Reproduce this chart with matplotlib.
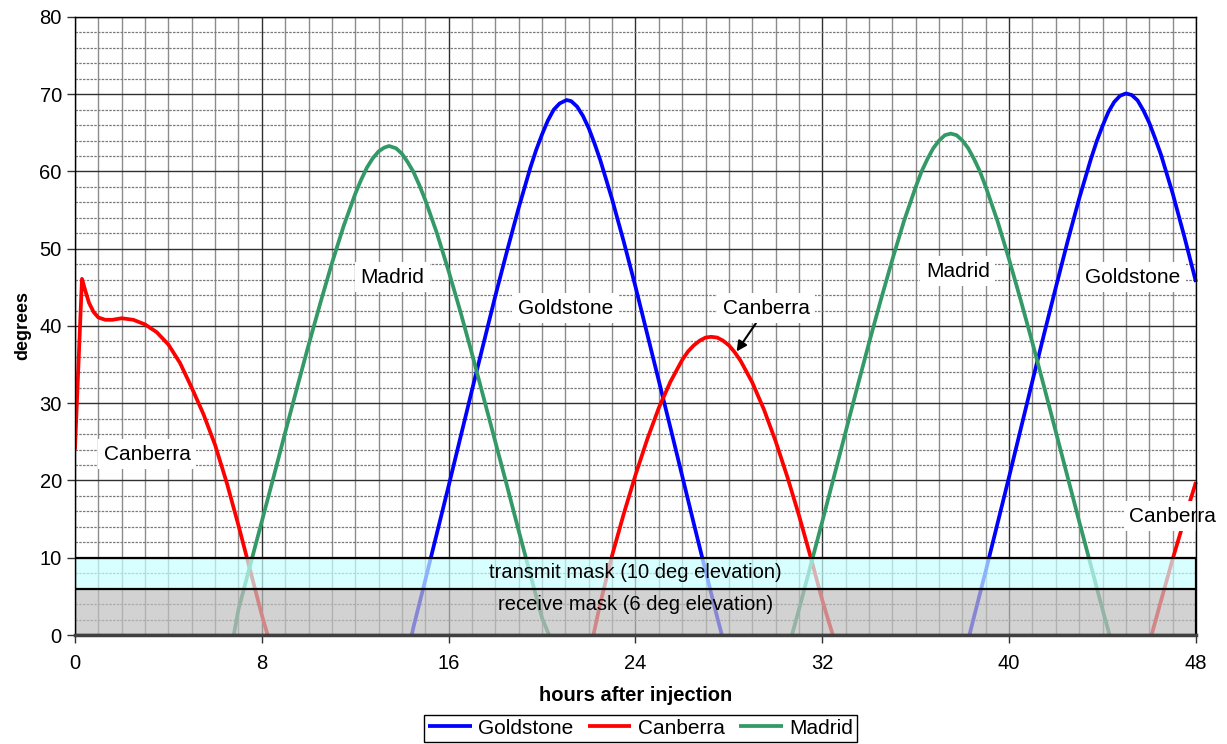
import numpy as np
import matplotlib
matplotlib.use('Agg')
import matplotlib.pyplot as plt
from matplotlib.patches import Rectangle

plt.rcParams['font.family'] = ['Liberation Sans', 'DejaVu Sans']

# elevation passes (hours after injection, degrees)
canberra1_t = [0, 0.3, 0.45, 0.6, 0.8, 1.0, 1.3, 1.6, 2.0, 2.5, 3.0, 3.5, 4.0, 4.5, 5.0, 5.5, 6.0, 6.5, 7.0, 7.5, 8.0, 8.25]
canberra1_el = [24, 46.1, 44.5, 43.0, 41.8, 41.1, 40.8, 40.8, 41.0, 40.8, 40.2, 39.2, 37.6, 35.2, 32.0, 28.6, 24.6, 19.7, 14.2, 8.4, 2.6, 0]

madrid1_t = [6.8, 7.0, 7.5, 8.0, 8.5, 9.0, 9.5, 10.0, 10.5, 11.0, 11.5, 12.0, 12.25, 12.5, 12.75, 13.0, 13.25, 13.45,
             13.75, 14.0, 14.25, 14.5, 14.75, 15.0, 15.5, 16.0, 16.5, 17.0, 17.5, 18.0, 18.5, 19.0, 19.5, 20.0, 20.3]
madrid1_el = [0, 3.3, 9.0, 14.7, 20.4, 26.2, 31.9, 37.5, 42.9, 48.1, 52.9, 57.1, 58.9, 60.5, 61.7, 62.6, 63.1, 63.3,
              63.0, 62.3, 61.2, 59.9, 58.2, 56.3, 52.0, 47.1, 41.9, 36.4, 30.7, 25.0, 19.3, 13.5, 7.8, 2.2, 0]

goldstone1_t = [14.42, 14.5, 15.0, 15.5, 16.0, 16.5, 17.0, 17.5, 18.0, 18.5, 19.0, 19.5, 19.75, 20.0, 20.25, 20.5,
                20.75, 21.05, 21.25, 21.5, 21.75, 22.0, 22.25, 22.5, 23.0, 23.5, 24.0, 24.5, 25.0, 25.5, 26.0,
                26.5, 27.0, 27.5, 27.7]
goldstone1_el = [0, 1.1, 7.1, 13.2, 19.3, 25.5, 31.7, 37.8, 43.9, 49.7, 55.3, 60.5, 62.8, 64.8, 66.6, 68.0,
                 68.8, 69.25, 69.1, 68.4, 67.2, 65.6, 63.6, 61.4, 56.4, 50.9, 45.1, 39.0, 32.9, 26.8, 20.6,
                 14.4, 8.3, 2.3, 0]

canberra2_t = [22.2, 22.5, 23.0, 23.5, 24.0, 24.5, 25.0, 25.5, 26.0, 26.25, 26.5, 26.75, 27.0, 27.24,
               27.5, 27.75, 28.0, 28.25, 28.5, 29.0, 29.5, 30.0, 30.5, 31.0, 31.5, 32.0, 32.45]
canberra2_el = [0, 4.2, 10.3, 15.7, 20.7, 25.3, 29.4, 32.8, 35.6, 36.7, 37.5, 38.1, 38.5, 38.6,
                38.5, 38.1, 37.5, 36.6, 35.5, 32.7, 29.2, 25.1, 20.5, 15.5, 10.1, 4.5, 0]

madrid2_t = [30.7, 31.0, 31.5, 32.0, 32.5, 33.0, 33.5, 34.0, 34.5, 35.0, 35.5, 36.0, 36.25, 36.5, 36.75, 37.0,
             37.25, 37.5, 37.75, 38.0, 38.25, 38.5, 38.75, 39.0, 39.5, 40.0, 40.5, 41.0, 41.5, 42.0, 42.5,
             43.0, 43.5, 44.0, 44.3]
madrid2_el = [0, 3.3, 9.0, 14.7, 20.5, 26.3, 32.1, 37.8, 43.3, 48.6, 53.6, 58.0, 60.0, 61.6, 63.0, 64.0,
              64.7, 64.9, 64.7, 64.0, 63.0, 61.6, 60.0, 58.0, 53.6, 48.6, 43.3, 37.8, 32.1, 26.3, 20.5,
              14.7, 9.0, 3.3, 0]

goldstone2_t = [38.3, 38.5, 39.0, 39.5, 40.0, 40.5, 41.0, 41.5, 42.0, 42.5, 43.0, 43.5, 43.75, 44.0, 44.25,
                44.5, 44.75, 45.0, 45.25, 45.5, 45.75, 46.0, 46.25, 46.5, 47.0, 47.5, 48.0]
goldstone2_el = [0, 2.4, 8.3, 14.4, 20.5, 26.7, 32.9, 39.0, 45.0, 50.9, 56.5, 61.6, 63.9, 65.9, 67.7,
                 69.0, 69.8, 70.1, 69.9, 69.2, 67.9, 66.3, 64.3, 62.2, 57.2, 51.6, 45.7]

canberra3_t = [46.1, 46.5, 47.0, 47.5, 48.0]
canberra3_el = [0, 4.4, 9.8, 14.9, 19.8]

transmit_mask = 10
receive_mask = 6

blue = '#0000ff'
red = '#ff0000'
green = '#339966'

fig = plt.figure(figsize=(12.27, 7.44), dpi=100)
ax = fig.add_axes([0.0611, 0.1465, 0.9136, 0.8307])

# grid
for x in range(0, 49):
    if x % 8 == 0:
        ax.axvline(x, color='#303030', lw=1.0, zorder=1)
    else:
        ax.axvline(x, color='#8c8c8c', lw=1.0, zorder=1)
for y in range(0, 81, 2):
    if y % 10 == 0:
        ax.axhline(y, color='#303030', lw=1.0, zorder=1)
    else:
        ax.axhline(y, color='#7a7a7a', lw=0.9, ls=(0, (2, 1)), zorder=1)

lw = 2.7
kw = dict(lw=lw, zorder=3, solid_joinstyle='round', solid_capstyle='butt')
ax.plot(goldstone1_t, goldstone1_el, color=blue, label='Goldstone', **kw)
ax.plot(goldstone2_t, goldstone2_el, color=blue, clip_on=False, **kw)
ax.plot(canberra1_t, canberra1_el, color=red, label='Canberra', **kw)
ax.plot(canberra2_t, canberra2_el, color=red, **kw)
ax.plot(canberra3_t, canberra3_el, color=red, clip_on=False, **kw)
ax.plot(madrid1_t, madrid1_el, color=green, label='Madrid', **kw)
ax.plot(madrid2_t, madrid2_el, color=green, **kw)

# mask bands drawn over the passes
ax.add_patch(Rectangle((0, receive_mask), 48, transmit_mask - receive_mask,
                       facecolor='#c8ffff', alpha=0.7, edgecolor='none', zorder=4))
ax.add_patch(Rectangle((0, 0), 48, receive_mask,
                       facecolor='#c0c0c0', alpha=0.7, edgecolor='none', zorder=4))
ax.add_patch(Rectangle((0, 0), 48, transmit_mask, facecolor='none',
                       edgecolor='black', lw=1.6, zorder=5))
ax.axhline(receive_mask, color='black', lw=1.6, zorder=5)
ax.text(24, 8.1, 'transmit mask (10 deg elevation)', ha='center', va='center', fontsize=14.5, zorder=6)
ax.text(24, 3.9, 'receive mask (6 deg elevation)', ha='center', va='center', fontsize=14.5, zorder=6)

box = dict(facecolor='white', edgecolor='none', pad=4)
fs = 15
ax.text(3.1, 23.4, 'Canberra', ha='center', va='center', fontsize=fs, bbox=box, zorder=6)
ax.text(13.6, 46.3, 'Madrid', ha='center', va='center', fontsize=fs, bbox=box, zorder=6)
ax.text(21.0, 42.3, 'Goldstone', ha='center', va='center', fontsize=fs, bbox=box, zorder=6)
ax.text(37.8, 47.1, 'Madrid', ha='center', va='center', fontsize=fs, bbox=box, zorder=6)
ax.text(45.3, 46.3, 'Goldstone', ha='center', va='center', fontsize=fs, bbox=box, zorder=6)
ax.text(47.0, 15.4, 'Canberra', ha='center', va='center', fontsize=fs, bbox=box, zorder=6, clip_on=False)
ax.annotate('Canberra', xy=(28.33, 36.7), xytext=(29.6, 42.3), ha='center', va='center',
            fontsize=fs, bbox=box, zorder=6,
            arrowprops=dict(arrowstyle='-|>', color='black', lw=1.5, mutation_scale=15,
                            shrinkA=0, shrinkB=0))

ax.set_xlim(0, 48)
ax.set_ylim(0, 80)
ax.set_xticks(range(0, 49, 8))
ax.set_yticks(range(0, 81, 10))
ax.tick_params(axis='both', labelsize=14.5, length=6, width=1, direction='out', color='#303030')
ax.tick_params(axis='x', pad=8)
for s in ax.spines.values():
    s.set_color('black')
    s.set_linewidth(1.0)
    s.set_zorder(7)
ax.spines['bottom'].set_linewidth(2.5)
ax.spines['bottom'].set_color('#404040')

ax.set_xlabel('hours after injection', fontsize=14.5, fontweight='bold', labelpad=9)
ax.set_ylabel('degrees', fontsize=13, fontweight='bold', labelpad=6)

fig.legend(loc='lower center', bbox_to_anchor=(0.522, 0.0), ncol=3, fontsize=15,
           frameon=True, fancybox=False, edgecolor='black', handlelength=2.1,
           handletextpad=0.3, columnspacing=0.7, borderpad=0.2, borderaxespad=0.1,
           framealpha=1)

plt.savefig('out.png', dpi=100)
